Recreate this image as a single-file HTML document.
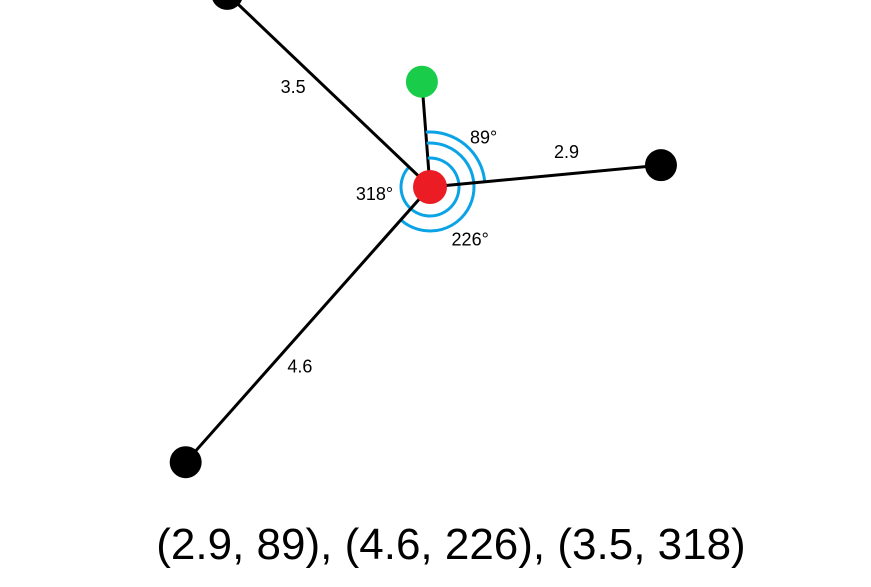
<!DOCTYPE html>
<html><head><meta charset="utf-8"><style>
html,body{margin:0;padding:0;background:#fff;}
svg{display:block;font-family:"Liberation Sans",sans-serif;}
</style></head><body>
<svg id="c" width="871" height="587" viewBox="0 0 871 587"></svg>
<script>
const distances = [2.9, 4.6, 3.5];
const angles = [89, 226, 318];
const distLabels = ["2.9", "4.6", "3.5"];
const angleLabels = ["89°", "226°", "318°"];
const pointNames = ["point-a", "point-b", "point-c"];

const cx = 430, cy = 187, scale = 80, north = -4.4;
const arcR = [55, 44, 29];
const angleLabelFrac = [0.58, 0.65, 0.84];
const angleLabelR = [73, 66, 56];
const NS = "http://www.w3.org/2000/svg";
const svg = document.getElementById("c");
function el(t, a){const e=document.createElementNS(NS,t);for(const k in a)e.setAttribute(k,a[k]);svg.appendChild(e);return e;}
function pos(d, deg){const r=(deg+north)*Math.PI/180;return [cx+Math.sin(r)*d*scale, cy-Math.cos(r)*d*scale];}
function polar(r, deg){const a=(deg+north)*Math.PI/180;return [cx+Math.sin(a)*r, cy-Math.cos(a)*r];}

const g0 = pos(1.32, 0);
let ln = el("line",{x1:cx,y1:cy,x2:g0[0],y2:g0[1],stroke:"#000","stroke-width":3});



angles.forEach((a,i)=>{
  const r = arcR[i];
  const s = polar(r,0), e = polar(r,a);
  const large = a>180?1:0;
  const p = el("path",{d:`M${s[0]},${s[1]} A${r},${r} 0 ${large} 1 ${e[0]},${e[1]}`,fill:"none",stroke:"#0aa3e6","stroke-width":3});
  
  
});

distances.forEach((d,i)=>{
  const p = pos(d, angles[i]);
  const l = el("line",{x1:cx,y1:cy,x2:p[0],y2:p[1],stroke:"#000","stroke-width":3});
  
  
});
distances.forEach((d,i)=>{
  const p = pos(d, angles[i]);
  const c = el("circle",{cx:p[0],cy:p[1],r:16,fill:"#000"});
  
  
  const m = pos(d*0.6, angles[i]);
  const pr = (angles[i]+north-90)*Math.PI/180;
  const lx = m[0]+Math.sin(pr)*22, ly = m[1]-Math.cos(pr)*22;
  const t = el("text",{x:lx,y:ly+6,"text-anchor":"middle","font-size":18,fill:"#000"});
  t.textContent = distLabels[i];
  
  
  const q = polar(angleLabelR[i], angles[i]*angleLabelFrac[i]);
  const ta = el("text",{x:q[0],y:q[1]+6,"text-anchor":"middle","font-size":18,fill:"#000"});
  ta.textContent = angleLabels[i];
  
  
});

const gc = el("circle",{cx:g0[0],cy:g0[1],r:16,fill:"#19cc4a"});


const rc = el("circle",{cx:cx,cy:cy,r:17,fill:"#ec1c24"});



const title = el("text",{x:451,y:559,"text-anchor":"middle","font-size":44,fill:"#000"});
title.textContent = distances.map((d,i)=>`(${distLabels[i]}, ${angles[i]})`).join(", ");


</script>
</body></html>
